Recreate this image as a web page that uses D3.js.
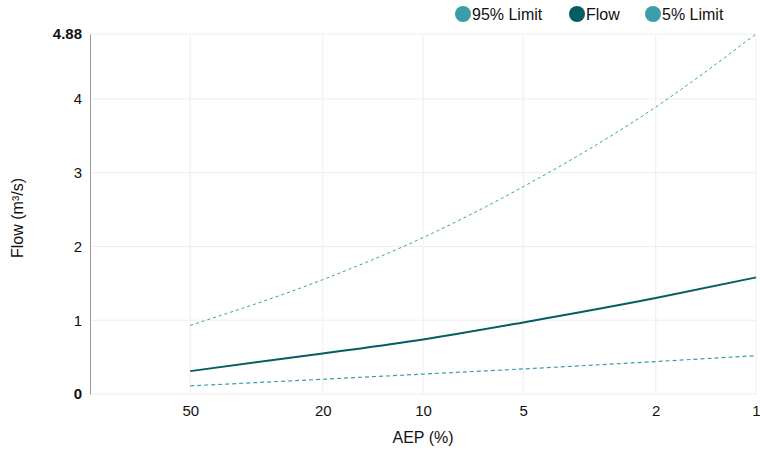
<!DOCTYPE html>
<html>
<head>
<meta charset="utf-8">
<script src="https://cdn.jsdelivr.net/npm/d3@7"></script>
<style>
  body { margin: 0; background: #fff; }
  svg { font-family: "Liberation Sans", Arial, sans-serif; }
</style>
</head>
<body>
<div id="chart"></div>
<script>
const aep = [50, 20, 10, 5, 2, 1];
const flow = [0.31, 0.55, 0.74, 0.97, 1.30, 1.58];
const upper95 = [0.93, 1.55, 2.12, 2.81, 3.89, 4.88];
const lower5 = [0.11, 0.20, 0.27, 0.34, 0.44, 0.52];
const yTicks = [0, 1, 2, 3, 4, 4.88];

const width = 760, height = 452, margin = { top: 34, right: 4, bottom: 58, left: 90 };
const svg = d3.select("#chart").append("svg")
    .attr("width", width)
    .attr("height", height);

const x = d3.scaleLog()
    .domain([100, 1])
    .range([margin.left, width - margin.right]);

const y = d3.scaleLinear()
    .domain([0, 4.88])
    .range([height - margin.bottom, margin.top]);

// grid
svg.append("g")
    .selectAll("line")
    .data(yTicks)
    .join("line")
    .attr("x1", margin.left)
    .attr("x2", width - margin.right)
    .attr("y1", d => y(d))
    .attr("y2", d => y(d))
    .attr("stroke", "#eeeeee");

svg.append("g")
    .selectAll("line")
    .data(aep)
    .join("line")
    .attr("x1", d => x(d))
    .attr("x2", d => x(d))
    .attr("y1", margin.top)
    .attr("y2", height - margin.bottom)
    .attr("stroke", "#eeeeee");

// axes
const yAxis = svg.append("g")
    .attr("transform", `translate(${margin.left},0)`)
    .call(d3.axisLeft(y).tickValues(yTicks).tickFormat(d => d === 4.88 ? "4.88" : d3.format("d")(d)).tickSize(0).tickPadding(8));
yAxis.select(".domain").attr("stroke", "#999");
yAxis.selectAll("text")
    .attr("font-size", "15px")
    .attr("fill", "#111")
    .attr("font-weight", d => (d === 0 || d === 4.88) ? "bold" : "normal");

const xAxis = svg.append("g")
    .attr("transform", `translate(0,${height - margin.bottom})`)
    .call(d3.axisBottom(x).tickValues(aep).tickFormat(d3.format("d")).tickSize(0).tickPadding(11));
xAxis.select(".domain").remove();
xAxis.selectAll("text")
    .attr("font-size", "15px")
    .attr("fill", "#111");

// axis titles
svg.append("text")
    .attr("x", (margin.left + width - margin.right) / 2)
    .attr("y", 443)
    .attr("text-anchor", "middle")
    .attr("font-size", "16px")
    .attr("fill", "#111")
    .text("AEP (%)");

svg.append("text")
    .attr("transform", `translate(23,218) rotate(-90)`)
    .attr("text-anchor", "middle")
    .attr("font-size", "16px")
    .attr("fill", "#111")
    .text("Flow (m³/s)");

// lines
const line = d3.line()
    .x((d, i) => x(aep[i]))
    .y(d => y(d))
    .curve(d3.curveMonotoneX);

svg.append("path")
    .datum(upper95)
    .attr("d", line)
    .attr("fill", "none")
    .attr("stroke", "#3a9ea8")
    .attr("stroke-width", 1)
    .attr("stroke-dasharray", "3,3");

svg.append("path")
    .datum(lower5)
    .attr("d", line)
    .attr("fill", "none")
    .attr("stroke", "#3a9ea8")
    .attr("stroke-width", 1.2)
    .attr("stroke-dasharray", "4,3");

svg.append("path")
    .datum(flow)
    .attr("d", line)
    .attr("fill", "none")
    .attr("stroke", "#035e63")
    .attr("stroke-width", 2);

// legend
const legendItems = [
    { label: "95% Limit", color: "#3a9ea8", x: 463 },
    { label: "Flow", color: "#035e63", x: 577 },
    { label: "5% Limit", color: "#3a9ea8", x: 653 }
];
const legend = svg.append("g");
legend.selectAll("circle")
    .data(legendItems)
    .join("circle")
    .attr("cx", d => d.x)
    .attr("cy", 14)
    .attr("r", 8)
    .attr("fill", d => d.color);
legend.selectAll("text")
    .data(legendItems)
    .join("text")
    .attr("x", d => d.x + 9)
    .attr("y", 19.5)
    .attr("font-size", "16px")
    .attr("fill", "#111")
    .text(d => d.label);
</script>
</body>
</html>
